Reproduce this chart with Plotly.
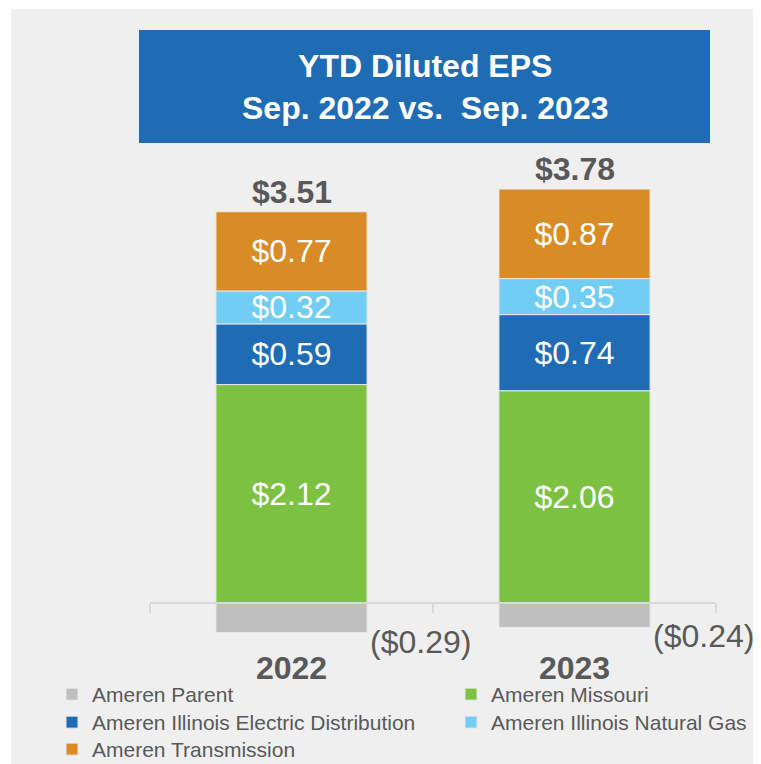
import plotly.graph_objects as go

# ---------------- data ----------------
categories = ["2022", "2023"]
ameren_parent = [-0.29, -0.24]
ameren_missouri = [2.12, 2.06]
ameren_il_electric = [0.59, 0.74]
ameren_il_gas = [0.32, 0.35]
ameren_transmission = [0.77, 0.87]

series_names = [
    "Ameren Parent",
    "Ameren Missouri",
    "Ameren Illinois Electric Distribution",
    "Ameren Illinois Natural Gas",
    "Ameren Transmission",
]
title_lines = ["YTD Diluted EPS", "Sep. 2022 vs.&nbsp; Sep. 2023"]

# ---------------- styles ----------------
FONT = "Liberation Sans, Arial, sans-serif"
DARK = "#595959"
colors = {
    "Ameren Parent": "#bfbfbf",
    "Ameren Missouri": "#7cc142",
    "Ameren Illinois Electric Distribution": "#1f6bb4",
    "Ameren Illinois Natural Gas": "#72cdf4",
    "Ameren Transmission": "#d98c26",
}
values_of = {
    "Ameren Parent": ameren_parent,
    "Ameren Missouri": ameren_missouri,
    "Ameren Illinois Electric Distribution": ameren_il_electric,
    "Ameren Illinois Natural Gas": ameren_il_gas,
    "Ameren Transmission": ameren_transmission,
}
# legend grid: (column left px, row top px) in screen pixels
legend_cols = [52, 451]
legend_rows = [674, 702, 729]
legend_slot = {
    "Ameren Parent": (0, 0),
    "Ameren Missouri": (1, 0),
    "Ameren Illinois Electric Distribution": (0, 1),
    "Ameren Illinois Natural Gas": (1, 1),
    "Ameren Transmission": (0, 2),
}

# page body has an 8px margin: figure pixel = screen pixel - OFF
OFF = 8
W, H = 753, 756
ML, MR, MT, MB = 142, 45, 142, 114
PW, PH = W - ML - MR, H - MT - MB
YMIN, YMAX = -0.46, 4.40


def px_x(Xs):
    return (Xs - OFF - ML) / PW


def px_y(Ys):
    return (H - MB - (Ys - OFF)) / PH


fig = go.Figure()
legend_layout = {}
for k, name in enumerate(series_names):
    vals = values_of[name]
    show_text = name != "Ameren Parent"
    lid = "legend" if k == 0 else f"legend{k + 1}"
    col, row = legend_slot[name]
    legend_layout[lid] = dict(
        x=px_x(legend_cols[col]), y=px_y(legend_rows[row]),
        xanchor="left", yanchor="top", orientation="v",
        bgcolor="rgba(0,0,0,0)",
        font=dict(family=FONT, size=21, color=DARK),
    )
    fig.add_trace(go.Bar(
        x=categories,
        y=vals,
        name=name,
        marker=dict(color=colors[name], line=dict(color="#e8e8e8", width=1)),
        text=[f"${v:.2f}" for v in vals] if show_text else None,
        textposition="inside" if show_text else "none",
        insidetextanchor="middle",
        constraintext="none",
        textfont=dict(family=FONT, size=32, color="white"),
        legend=lid,
        hoverinfo="skip",
    ))

annotations = []
for i, cat in enumerate(categories):
    pos_top = sum(values_of[n][i] for n in series_names if values_of[n][i] > 0)
    net = sum(values_of[n][i] for n in series_names)
    annotations.append(dict(
        x=i, y=pos_top, xref="x", yref="y", text=f"<b>${net:.2f}</b>",
        showarrow=False, yanchor="bottom", xanchor="center", yshift=0,
        font=dict(family=FONT, size=32, color=DARK),
    ))
    pv = ameren_parent[i]
    annotations.append(dict(
        x=i, y=pv, xref="x", yref="y", text=f"(${abs(pv):.2f})",
        showarrow=False, yanchor="middle", xanchor="left", xshift=76, yshift=-9,
        font=dict(family=FONT, size=32, color=DARK),
    ))

# title
annotations.append(dict(
    x=px_x(424.5), y=px_y(87), xref="paper", yref="paper",
    text="<b>" + "<br>".join(title_lines) + "</b>", showarrow=False,
    xanchor="center", yanchor="middle", align="center",
    font=dict(family=FONT, size=32, color="white"),
))

shapes = [
    dict(type="rect", xref="paper", yref="paper", layer="below",
         x0=px_x(11), x1=px_x(W + 20), y0=px_y(H + 20), y1=px_y(9),
         fillcolor="#efefef", line=dict(width=0)),
    dict(type="rect", xref="paper", yref="paper", layer="below",
         x0=px_x(139), x1=px_x(710), y0=px_y(143), y1=px_y(30),
         fillcolor="#1f6cb4", line=dict(width=0)),
]

fig.update_layout(
    width=W, height=H,
    margin=dict(l=ML, r=MR, t=MT, b=MB, autoexpand=False),
    paper_bgcolor="white",
    plot_bgcolor="rgba(0,0,0,0)",
    barmode="relative",
    bargap=0.466,
    font=dict(family=FONT, color=DARK),
    annotations=annotations,
    shapes=shapes,
    xaxis=dict(
        type="category",
        anchor="free",
        position=(0 - YMIN) / (YMAX - YMIN),
        showline=True, linecolor="#d9d9d9", linewidth=2,
        ticks="outside", ticklen=9, tickcolor="#d9d9d9", tickwidth=2,
        tickson="boundaries",
        showgrid=False,
        tickfont=dict(family=FONT, size=32, color=DARK, weight="bold"),
        ticklabelstandoff=37,
        range=[-0.5, 1.5],
    ),
    yaxis=dict(range=[YMIN, YMAX], visible=False, showgrid=False, zeroline=False),
    showlegend=True,
    **legend_layout,
)

fig.write_html("out.html")
